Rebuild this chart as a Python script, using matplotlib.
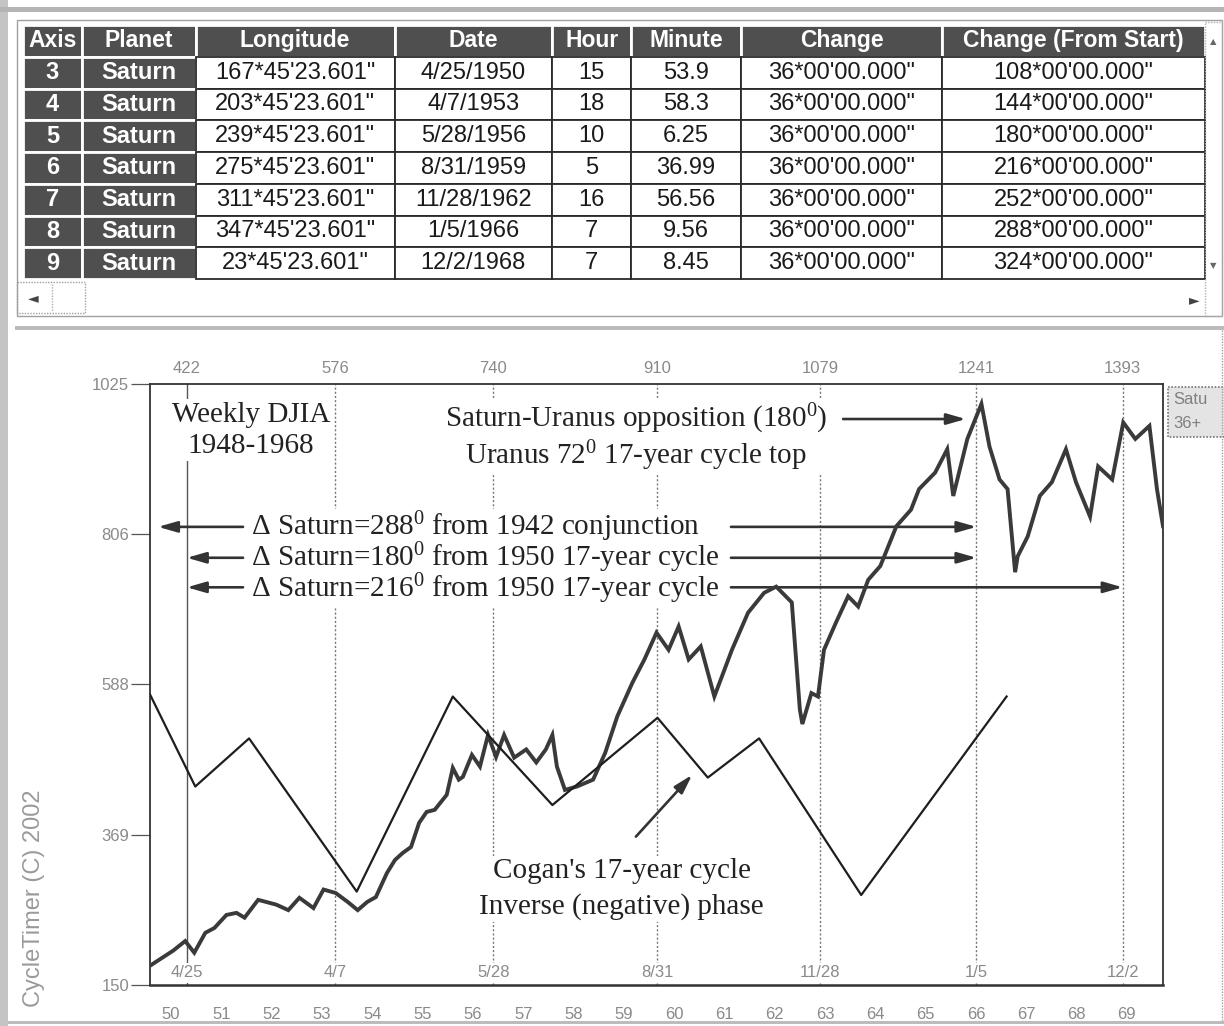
import matplotlib
matplotlib.use("Agg")
import matplotlib.pyplot as plt
from matplotlib.patches import Rectangle
from datetime import date

plt.rcParams['font.family'] = ['Liberation Sans', 'DejaVu Sans']
plt.rcParams['mathtext.fontset'] = 'custom'
plt.rcParams['mathtext.rm'] = 'Liberation Serif'
plt.rcParams['mathtext.it'] = 'Liberation Serif:italic'
plt.rcParams['mathtext.bf'] = 'Liberation Serif:bold'

# ---------------- table data ----------------
col_headers = ["Axis", "Planet", "Longitude", "Date", "Hour", "Minute", "Change", "Change (From Start)"]
axis_nums = ["3", "4", "5", "6", "7", "8", "9"]
planets = ["Saturn"] * 7
longitudes = ["167*45'23.601\"", "203*45'23.601\"", "239*45'23.601\"", "275*45'23.601\"",
              "311*45'23.601\"", "347*45'23.601\"", "23*45'23.601\""]
dates = ["4/25/1950", "4/7/1953", "5/28/1956", "8/31/1959", "11/28/1962", "1/5/1966", "12/2/1968"]
hours = ["15", "18", "10", "5", "16", "7", "7"]
minutes = ["53.9", "58.3", "6.25", "36.99", "56.56", "9.56", "8.45"]
changes = ["36*00'00.000\""] * 7
change_from_start = ["108*00'00.000\"", "144*00'00.000\"", "180*00'00.000\"", "216*00'00.000\"",
                     "252*00'00.000\"", "288*00'00.000\"", "324*00'00.000\""]

# ---------------- chart data ----------------
top_bar_index = [422, 576, 740, 910, 1079, 1241, 1393]
year_ticks = list(range(1950, 1970))
y_ticks = [150, 369, 588, 806, 1025]

djia_year = [1949.60, 1950.04, 1950.28, 1950.46, 1950.68, 1950.86, 1951.10, 1951.30, 1951.46, 1951.73,
             1952.09, 1952.33, 1952.55, 1952.83, 1953.03, 1953.27, 1953.51, 1953.71, 1953.90, 1954.07,
             1954.29, 1954.45, 1954.60, 1954.77, 1954.93, 1955.08, 1955.24, 1955.48, 1955.60, 1955.72,
             1955.80, 1955.98, 1956.14, 1956.30, 1956.46, 1956.62, 1956.82, 1957.06, 1957.26, 1957.45,
             1957.58, 1957.67, 1957.83, 1958.07, 1958.39, 1958.63, 1958.87, 1959.17, 1959.41, 1959.65,
             1959.89, 1960.09, 1960.29, 1960.53, 1960.80, 1961.15, 1961.47, 1961.79, 1962.03, 1962.34,
             1962.50, 1962.55, 1962.73, 1962.86, 1962.98, 1963.22, 1963.46, 1963.66, 1963.86, 1964.10,
             1964.42, 1964.71, 1964.87, 1965.19, 1965.43, 1965.55, 1965.83, 1966.11, 1966.27, 1966.47,
             1966.63, 1966.78, 1966.83, 1967.03, 1967.27, 1967.51, 1967.79, 1967.99, 1968.27, 1968.43,
             1968.71, 1968.93, 1969.17, 1969.45, 1969.60, 1969.72]
djia_value = [179, 200, 214, 197, 226, 233, 252, 255, 248, 274,
              267, 259, 277, 262, 289, 284, 271, 259, 271, 278,
              313, 332, 342, 351, 386, 402, 405, 427, 466, 449,
              453, 485, 468, 514, 482, 514, 481, 493, 474, 493,
              514, 468, 434, 439, 449, 488, 541, 590, 624, 663,
              638, 672, 624, 643, 570, 638, 692, 721, 730, 707,
              551, 530, 575, 570, 638, 678, 716, 701, 740, 760,
              818, 842, 872, 896, 930, 862, 945, 996, 934, 886,
              872, 751, 774, 803, 862, 882, 930, 882, 832, 905,
              886, 969, 945, 964, 872, 818]

cycle_year = [1949.58, 1950.48, 1951.55, 1953.69, 1955.60, 1957.58, 1959.67, 1960.67, 1961.69, 1963.72, 1966.61]
cycle_value = [573, 439, 509, 286, 570, 412, 539, 452, 509, 281, 570]


def decimal_year(s):
    m, d, y = map(int, s.split("/"))
    start = date(y, 1, 1)
    length = (date(y + 1, 1, 1) - start).days
    return y + (date(y, m, d) - start).days / length


date_years = [decimal_year(s) for s in dates]
date_short = [s.rsplit("/", 1)[0] for s in dates]

W, H = 1224, 1026
fig = plt.figure(figsize=(W / 100, H / 100), dpi=100)
fig.patch.set_facecolor("white")

# ---------------- background / window frame (pixel coordinates) ----------------
bg = fig.add_axes([0, 0, 1, 1])
bg.set_xlim(0, W)
bg.set_ylim(H, 0)
bg.axis("off")
bg.add_patch(Rectangle((0, 0), 8, H, fc="#c4c4c4", ec="none"))
bg.add_patch(Rectangle((0, 7), W, 5, fc="#b4b4b4", ec="none"))
bg.add_patch(Rectangle((17, 20), W - 19, 296, fc="none", ec="#a0a0a0", lw=1))
bg.add_patch(Rectangle((15, 326), W, 4, fc="#bcbcbc", ec="none"))
bg.add_patch(Rectangle((8, 1021), W, 3, fc="#bcbcbc", ec="none"))
bg.plot([1222, 1222], [330, 1021], color="#a0a0a0", lw=1, ls=(0, (1, 1)))
# scroll bars
bg.add_patch(Rectangle((17, 282), 68, 31, fc="none", ec="#a0a0a0", lw=1, ls=(0, (1, 1))))
bg.plot([52, 52], [284, 311], color="#b0b0b0", lw=1, ls=(0, (1, 1)))
bg.text(33, 298, "\u25c4", fontsize=10, color="#444444", ha="center", va="center", family="DejaVu Sans")
bg.text(1194, 300, "\u25ba", fontsize=10, color="#444444", ha="center", va="center", family="DejaVu Sans")
bg.add_patch(Rectangle((1205, 22), 17, 294, fc="none", ec="#b0b0b0", lw=1, ls=(0, (1, 1))))
bg.text(1213, 42, "\u25b2", fontsize=6, color="#666666", ha="center", va="center", family="DejaVu Sans")
bg.text(1213, 266, "\u25bc", fontsize=6, color="#666666", ha="center", va="center", family="DejaVu Sans")

# ---------------- table ----------------
rows = list(zip(axis_nums, planets, longitudes, dates, hours, minutes, changes, change_from_start))
col_px = [58, 112, 196, 155, 78, 108, 198, 259]
tab_left, tab_top, tab_right, tab_bottom = 23, 25, 1205, 279
table = bg.table(cellText=[list(r) for r in rows], colLabels=col_headers,
                 colWidths=[c / sum(col_px) for c in col_px], cellLoc="center",
                 bbox=[tab_left / W, 1 - tab_bottom / H, (tab_right - tab_left) / W, (tab_bottom - tab_top) / H])
table.auto_set_font_size(False)
for (r, c), cell in table.get_celld().items():
    txt = cell.get_text()
    txt.set_fontfamily("Liberation Sans")
    txt.set_fontsize(17)
    if r == 0 or c <= 1:
        cell.set_facecolor("#4f4f4f")
        cell.set_edgecolor("white")
        cell.set_linewidth(2)
        txt.set_color("white")
        txt.set_fontweight("bold")
        if r == 0:
            txt.set_fontsize(16.5)
    else:
        cell.set_facecolor("white")
        cell.set_edgecolor("#2a2a2a")
        cell.set_linewidth(1.3)
        txt.set_color("#1a1a1a")

# ---------------- chart ----------------
ax_l, ax_r, ax_t, ax_b = 150, 1163, 384, 985
ax = fig.add_axes([ax_l / W, 1 - ax_b / H, (ax_r - ax_l) / W, (ax_b - ax_t) / H])
ax.set_facecolor("white")
ax.set_xlim(1949.58, 1969.72)
ax.set_ylim(150, 1025)

for sp in ax.spines.values():
    sp.set_color("#333333")
    sp.set_linewidth(1.3)
ax.spines["bottom"].set_linewidth(1.8)

tick_color = "#8a8a8a"
ax.set_yticks(y_ticks)
ax.set_yticklabels([str(v) for v in y_ticks])
ax.tick_params(axis="y", direction="out", length=14, width=0.9, color="#555555",
               labelsize=12, labelcolor=tick_color, pad=1)
ax.set_xticks(year_ticks)
ax.set_xticklabels([f"{y % 100:02d}" for y in year_ticks])
ax.tick_params(axis="x", length=0, labelsize=12, labelcolor=tick_color, pad=16)

ax_top = ax.twiny()
ax_top.set_xlim(ax.get_xlim())
ax_top.set_xticks(date_years)
ax_top.set_xticklabels([str(i) for i in top_bar_index])
ax_top.tick_params(axis="x", length=0, labelsize=12, labelcolor=tick_color, pad=6)
for sp in ax_top.spines.values():
    sp.set_visible(False)

# vertical date lines
for i, xv in enumerate(date_years):
    if i == 0:
        ax.axvline(xv, color="#555555", lw=1.0, zorder=1)
    else:
        ax.axvline(xv, color="#777777", lw=1.0, ls=(0, (1.5, 1.5)), zorder=1)
    ax.text(xv, 0.02, date_short[i], transform=ax.get_xaxis_transform(), ha="center", va="center",
            fontsize=12, color=tick_color, zorder=5,
            bbox=dict(fc="white", ec="none", pad=2))

# series
ax.plot(djia_year, djia_value, color="#3a3a3a", lw=2.8, zorder=3, solid_joinstyle="miter")
ax.plot(cycle_year, cycle_value, color="#1e1e1e", lw=1.6, zorder=3)

# annotations
serif = "Liberation Serif"
box = dict(fc="white", ec="none", pad=1.5)
ax.text(1951.59, 958, "Weekly DJIA\n1948-1968", ha="center", va="center", fontsize=21, family=serif,
        linespacing=1.25, color="#222222", bbox=box, zorder=4)
ax.text(1959.24, 947, "Saturn-Uranus opposition (180$^{0}$)\nUranus 72$^{0}$ 17-year cycle top",
        ha="center", va="center", fontsize=21, family=serif, linespacing=1.12, color="#222222",
        bbox=box, zorder=4)
ax.text(1958.96, 290, "Cogan's 17-year cycle\nInverse (negative) phase", ha="center", va="center",
        fontsize=21, family=serif, linespacing=1.45, color="#222222", bbox=box, zorder=4)

arrow_kw = dict(arrowstyle="-|>,head_length=1.15,head_width=0.33", lw=1.9, color="#333333",
                shrinkA=0, shrinkB=0, mutation_scale=10)

delta_texts = ["\u0394 Saturn=288$^{0}$ from 1942 conjunction",
               "\u0394 Saturn=180$^{0}$ from 1950 17-year cycle",
               "\u0394 Saturn=216$^{0}$ from 1950 17-year cycle"]
delta_levels = [817, 772, 729]
left_heads = [1949.74, date_years[0], date_years[0]]
right_heads = [date_years[5], date_years[5], date_years[6]]
ax.text(1951.59, delta_levels[1], "\n".join(delta_texts), ha="left", va="center", fontsize=21,
        family=serif, color="#222222", linespacing=0.87,
        bbox=dict(fc="white", ec="none", pad=0.5), zorder=4)
for yv, lh, rh in zip(delta_levels, left_heads, right_heads):
    ax.annotate("", xy=(lh, yv), xytext=(1951.43, yv), arrowprops=arrow_kw, zorder=2)
    ax.annotate("", xy=(rh, yv), xytext=(1961.13, yv), arrowprops=arrow_kw, zorder=2)

ax.annotate("", xy=(1965.80, 974), xytext=(1963.36, 974), arrowprops=arrow_kw, zorder=2)
ax.annotate("", xy=(1960.36, 456), xytext=(1959.24, 366), arrowprops=arrow_kw, zorder=2)

# small legend box at the right edge (cut off)
bg.add_patch(Rectangle((1168, 387), 60, 50, fc="#e4e4e4", ec="#777777", lw=1.2, ls=(0, (1, 1))))
bg.text(1173, 400, "Satu", fontsize=12, color="#808080", ha="left", va="center")
bg.text(1173, 424, "36+", fontsize=12, color="#808080", ha="left", va="center")

# y label
fig.text(34 / W, 1 - 898 / H, "CycleTimer (C) 2002", rotation=90, ha="center", va="center",
         fontsize=17, color="#9a9a9a")

fig.savefig("out.png", dpi=100)
